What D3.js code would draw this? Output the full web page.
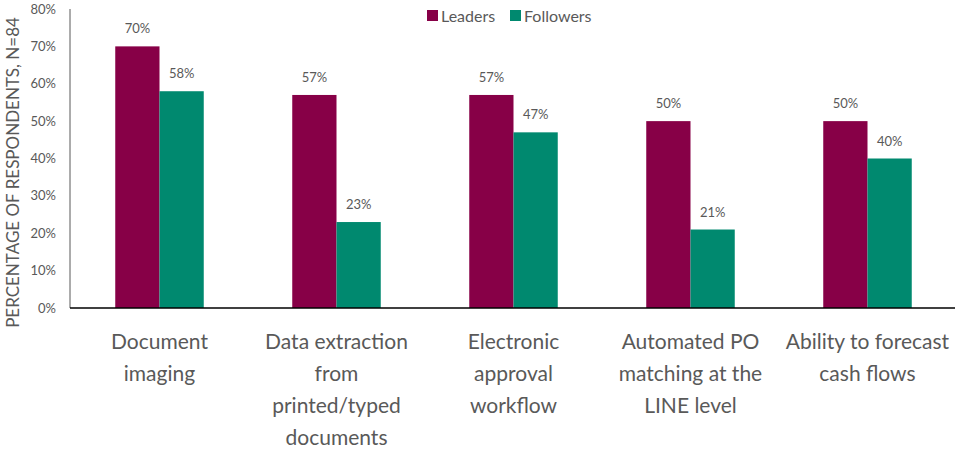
<!DOCTYPE html>
<html>
<head>
<meta charset="utf-8">
<script src="https://cdn.jsdelivr.net/npm/d3@7"></script>
<style>
  body { margin: 0; background: #fff; }
  svg text { font-family: "Source Sans Pro", Lato, "Open Sans", sans-serif; fill: #595959; }
</style>
</head>
<body>
<svg id="chart" width="956" height="449"></svg>
<script>
// chart data
var categories = [
    ["Document", "imaging"],
    ["Data extraction", "from", "printed/typed", "documents"],
    ["Electronic", "approval", "workflow"],
    ["Automated PO", "matching at the", "LINE level"],
    ["Ability to forecast", "cash flows"]
];
var seriesNames = ["Leaders", "Followers"];
var leaders = [70, 57, 57, 50, 50];
var followers = [58, 23, 47, 21, 40];
var yTicks = [0, 10, 20, 30, 40, 50, 60, 70, 80];

var colors = { "Leaders": "#870047", "Followers": "#00896f" };

var svg = d3.select('#chart');
var margin = { left: 70, right: 1, top: 9, bottom: 141 };
var width = 956, height = 449;

var x = d3.scaleBand()
    .domain(d3.range(categories.length))
    .range([margin.left + 1, width])
    .paddingInner(0.5)
    .paddingOuter(0.25);

var x1 = d3.scaleBand()
    .domain(seriesNames)
    .range([0, x.bandwidth()]);

var y = d3.scaleLinear()
    .domain([0, 80])
    .range([height - margin.bottom, margin.top]);

// y axis ticks (no gridlines)
svg.append('g')
    .selectAll('text')
    .data(yTicks)
    .enter()
    .append('text')
    .attr('x', margin.left - 14)
    .attr('y', function(d){ return y(d); })
    .attr('dy', '0.35em')
    .attr('text-anchor', 'end')
    .style('font-size', '13px')
    .text(function(d){ return d + '%'; });

svg.append('line')
    .attr('x1', margin.left).attr('x2', margin.left)
    .attr('y1', y(80)).attr('y2', y(0))
    .attr('stroke', '#595959').attr('stroke-width', 1);

// y title
svg.append('text')
    .attr('transform', 'translate(19,' + (y(40) + 14) + ') rotate(-90)')
    .attr('text-anchor', 'middle')
    .style('font-size', '17px')
    .text('PERCENTAGE OF RESPONDENTS, N=84');

// bars
var rows = categories.map(function(c, i){
    return { i: i, values: [
        { name: 'Leaders', v: leaders[i] },
        { name: 'Followers', v: followers[i] }
    ]};
});

var groups = svg.selectAll('.grp')
    .data(rows)
    .enter()
    .append('g')
    .attr('class', 'grp')
    .attr('transform', function(d){ return 'translate(' + x(d.i) + ',0)'; });

groups.selectAll('rect')
    .data(function(d){ return d.values; })
    .enter()
    .append('rect')
    .attr('x', function(d){ return x1(d.name); })
    .attr('y', function(d){ return y(d.v); })
    .attr('width', x1.bandwidth())
    .attr('height', function(d){ return y(0) - y(d.v); })
    .attr('fill', function(d){ return colors[d.name]; });

groups.selectAll('.val')
    .data(function(d){ return d.values; })
    .enter()
    .append('text')
    .attr('class', 'val')
    .attr('x', function(d){ return x1(d.name) + x1.bandwidth() / 2; })
    .attr('y', function(d){ return y(d.v) - 13; })
    .attr('text-anchor', 'middle')
    .style('font-size', '13px')
    .text(function(d){ return d.v + '%'; });

// baseline
svg.append('line')
    .attr('x1', margin.left).attr('x2', width - margin.right)
    .attr('y1', y(0)).attr('y2', y(0))
    .attr('stroke', '#000').attr('stroke-width', 1.5);

// category labels
var labels = svg.selectAll('.cat')
    .data(categories)
    .enter()
    .append('text')
    .attr('class', 'cat')
    .attr('text-anchor', 'middle')
    .style('font-size', '21px');

labels.selectAll('tspan')
    .data(function(d, i){ return d.map(function(l){ return { l: l, i: i }; }); })
    .enter()
    .append('tspan')
    .attr('x', function(d){ return x(d.i) + x.bandwidth() / 2; })
    .attr('y', function(d, j){ return y(0) + 41 + j * 32; })
    .text(function(d){ return d.l; });

// legend
var legend = svg.append('g').attr('transform', 'translate(427,9)');
var items = legend.selectAll('g')
    .data(seriesNames)
    .enter()
    .append('g')
    .attr('transform', function(d, i){ return 'translate(' + (i * 83) + ',0)'; });
items.append('rect')
    .attr('width', 11).attr('height', 11).attr('y', 1)
    .attr('fill', function(d){ return colors[d]; });
items.append('text')
    .attr('x', 14).attr('y', 7)
    .attr('dy', '0.35em')
    .style('font-size', '16px')
    .text(function(d){ return d; });
</script>
</body>
</html>
